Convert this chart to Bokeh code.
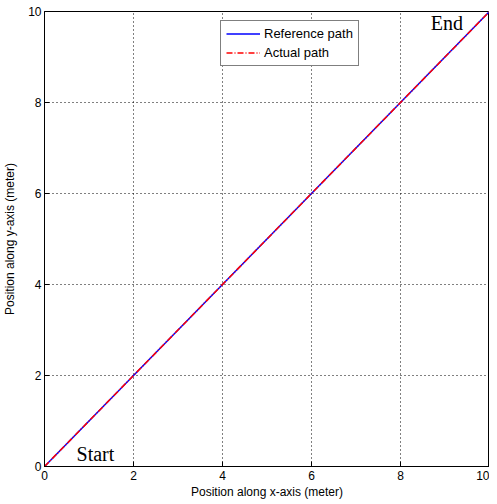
from bokeh.plotting import figure
from bokeh.embed import file_html
from bokeh.resources import INLINE
from bokeh.models import Range1d, FixedTicker, Legend, LegendItem
from bokeh.core.properties import value

ref_x = [0, 10]
ref_y = [0, 10]
act_x = [0, 10]
act_y = [0, 10]
ticks = [0, 2, 4, 6, 8, 10]
start_label = ("Start", 0.72, 0.27)
end_label = ("End", 8.68, 9.74)

p = figure(width=489, height=501, output_backend="svg", toolbar_location=None,
           x_range=Range1d(0, 10), y_range=Range1d(0, 10),
           min_border_left=37, min_border_right=0, min_border_top=11, min_border_bottom=29)

p.outline_line_color = "black"
p.outline_line_width = 1
p.background_fill_color = "white"
p.border_fill_color = "white"

for ax in (p.xaxis[0], p.yaxis[0]):
    ax.ticker = FixedTicker(ticks=ticks)
    ax.axis_line_color = "black"
    ax.major_tick_line_color = "black"
    ax.major_tick_in = 5
    ax.major_tick_out = 0
    ax.minor_tick_line_color = None
    ax.major_label_text_font = "Liberation Sans"
    ax.major_label_text_font_size = "12px"
    ax.major_label_text_color = "black"
    ax.axis_label_text_font = "Liberation Sans"
    ax.axis_label_text_font_size = "12px"
    ax.axis_label_text_font_style = "normal"
    ax.axis_label_text_color = "black"

p.xaxis.axis_label = "Position along x-axis (meter)"
p.yaxis.axis_label = "Position along y-axis (meter)"
p.xaxis.major_label_standoff = 4
p.xaxis.axis_label_standoff = 2
p.yaxis.major_label_standoff = 3
p.yaxis.axis_label_standoff = 8

for g in (p.xgrid[0], p.ygrid[0]):
    g.grid_line_color = "black"
    g.grid_line_dash = "1 3"
    g.grid_line_width = 1
    g.ticker = FixedTicker(ticks=ticks)

r1 = p.line(ref_x, ref_y, line_color="blue", line_width=1.5)
r2 = p.line(act_x, act_y, line_color="red", line_width=1.5, line_dash="6 2 1 2")

p.text(x=[start_label[1]], y=[start_label[2]], text=[start_label[0]],
       text_font=value("Liberation Serif"), text_font_size="20px", text_color="black",
       text_baseline="alphabetic")
p.text(x=[end_label[1]], y=[end_label[2]], text=[end_label[0]],
       text_font=value("Liberation Serif"), text_font_size="20px", text_color="black",
       text_baseline="alphabetic")

legend = Legend(items=[LegendItem(label="Reference path", renderers=[r1]),
                       LegendItem(label="Actual path", renderers=[r2])],
                location=(176, 400))
legend.border_line_color = "black"
legend.border_line_width = 1
legend.label_text_font = "Liberation Sans"
legend.label_text_font_size = "13px"
legend.label_text_color = "black"
legend.glyph_width = 34
legend.glyph_height = 15
legend.label_height = 15
legend.spacing = 4
legend.padding = 5
legend.margin = 0
legend.label_standoff = 4
legend.background_fill_alpha = 1
p.add_layout(legend, "center")

open("out.html", "w").write(file_html(p, INLINE))
